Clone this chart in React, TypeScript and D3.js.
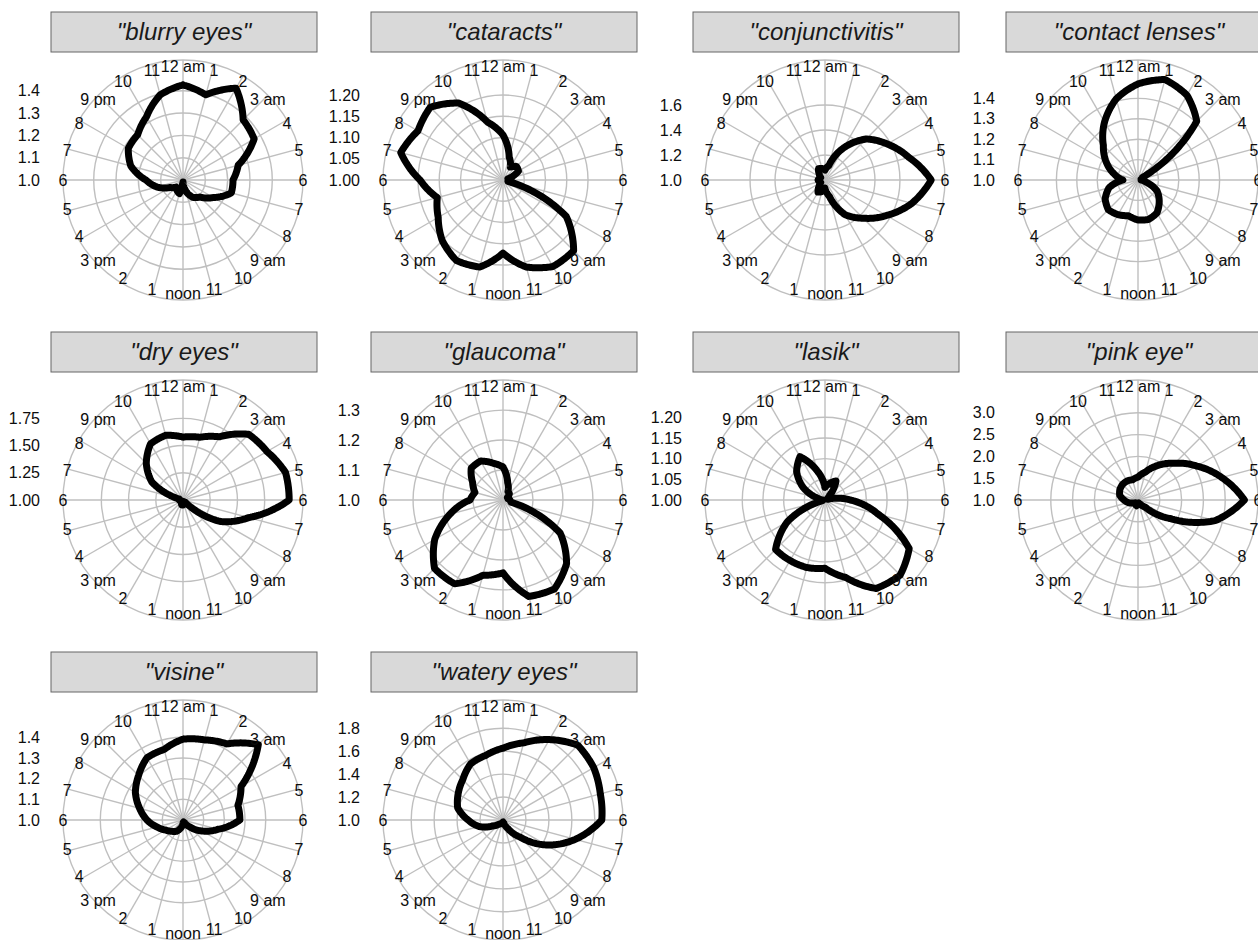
import React from 'react';
import * as d3 from 'd3';

// ---- data ----
const hourLabels = ['12 am', '1', '2', '3 am', '4', '5', '6', '7', '8', '9 am', '10', '11',
  'noon', '1', '2', '3 pm', '4', '5', '6', '7', '8', '9 pm', '10', '11'];

const panelTitles = ['"blurry eyes"', '"cataracts"', '"conjunctivitis"', '"contact lenses"',
  '"dry eyes"', '"glaucoma"', '"lasik"', '"pink eye"', '"visine"', '"watery eyes"'];

const blurryEyes = [1.426, 1.395, 1.475, 1.381, 1.368, 1.256, 1.224, 1.224, 1.157, 1.108, 1.09, 1.054,
  1.009, 1.063, 1.054, 1.045, 1.067, 1.121, 1.166, 1.242, 1.283, 1.287, 1.327, 1.395];
const cataracts = [1.106, 1.056, 1.035, 1.045, 1.042, 1.012, 1.019, 1.012, 1.172, 1.235, 1.235, 1.212,
  1.172, 1.212, 1.219, 1.202, 1.176, 1.16, 1.195, 1.249, 1.231, 1.242, 1.209, 1.141];
const conjunctivitis = [1.08, 1.12, 1.296, 1.464, 1.576, 1.696, 1.85, 1.72, 1.568, 1.432, 1.32, 1.136,
  1.064, 1.096, 1.112, 1.064, 1.04, 1.048, 1.056, 1.048, 1.04, 1.064, 1.104, 1.096];
const contactLenses = [1.471, 1.51, 1.48, 1.407, 1.025, 1.015, 1.015, 1.04, 1.108, 1.147, 1.186, 1.2,
  1.196, 1.181, 1.196, 1.206, 1.186, 1.147, 1.074, 1.123, 1.181, 1.24, 1.328, 1.412];
const dryEyes = [1.578, 1.596, 1.67, 1.853, 1.89, 1.975, 1.975, 1.624, 1.394, 1.028, 1.018, 1.028,
  1.046, 1.046, 1.028, 1.018, 1.018, 1.018, 1.037, 1.037, 1.33, 1.477, 1.596, 1.615];
const glaucoma = [1.11, 1.06, 1.033, 1.03, 1.017, 1.017, 1.023, 1.027, 1.22, 1.3, 1.343, 1.333,
  1.243, 1.26, 1.323, 1.323, 1.263, 1.183, 1.11, 1.097, 1.117, 1.15, 1.15, 1.127];
const lasik = [1.031, 1.041, 1.053, 1.015, 1.007, 1.007, 1.061, 1.133, 1.235, 1.257, 1.247, 1.194,
  1.165, 1.169, 1.169, 1.169, 1.105, 1.007, 1.005, 1.019, 1.061, 1.097, 1.121, 1.073];
const pinkEye = [1.526, 1.664, 1.915, 2.19, 2.556, 2.99, 3.44, 2.83, 1.847, 1.229, 1.114, 1.069,
  1.092, 1.137, 1.114, 1.092, 1.137, 1.229, 1.32, 1.435, 1.48, 1.503, 1.503, 1.48];
const visine = [1.391, 1.401, 1.425, 1.515, 1.324, 1.275, 1.275, 1.174, 1.106, 1.048, 1.014, 1.01,
  1.014, 1.039, 1.063, 1.077, 1.097, 1.13, 1.174, 1.217, 1.266, 1.304, 1.348, 1.353];
const wateryEyes = [1.626, 1.696, 1.809, 1.922, 1.913, 1.878, 1.861, 1.652, 1.435, 1.209, 1.087, 1.026,
  1.017, 1.026, 1.035, 1.052, 1.104, 1.217, 1.304, 1.409, 1.452, 1.496, 1.565, 1.583];

const panelValues = [blurryEyes, cataracts, conjunctivitis, contactLenses, dryEyes,
  glaucoma, lasik, pinkEye, visine, wateryEyes];

const radialMin = [1.0, 1.0, 1.0, 1.0, 1.0, 1.0, 1.0, 1.0, 1.0, 1.0];
const radialMax = [1.478, 1.251, 1.854, 1.523, 1.98, 1.356, 1.258, 3.447, 1.516, 1.93];
const radialBreaks = [
  [1.0, 1.1, 1.2, 1.3, 1.4],
  [1.0, 1.05, 1.1, 1.15, 1.2],
  [1.0, 1.2, 1.4, 1.6],
  [1.0, 1.1, 1.2, 1.3, 1.4],
  [1.0, 1.25, 1.5, 1.75],
  [1.0, 1.1, 1.2, 1.3],
  [1.0, 1.05, 1.1, 1.15, 1.2],
  [1.0, 1.5, 2.0, 2.5, 3.0],
  [1.0, 1.1, 1.2, 1.3, 1.4],
  [1.0, 1.2, 1.4, 1.6, 1.8],
];
const breakDigits = [1, 2, 1, 1, 2, 1, 2, 1, 1, 1];

// ---- layout ----
const colCenters = [183, 503, 825, 1138];
const rowCenters = [180, 500, 820];
const R_DATA = 106.7;
const R_OUTER = 120;
const FONT = '"Liberation Sans", Arial, sans-serif';

function Panel({ idx, cx, cy }: { idx: number; cx: number; cy: number }) {
  const values = panelValues[idx];
  const r = d3.scaleLinear().domain([radialMin[idx], radialMax[idx]]).range([0, R_DATA]).clamp(true);
  const theta = d3.scaleLinear().domain([0, 24]).range([0, 2 * Math.PI]);
  const steps = 20;
  const pts: [number, number][] = [];
  for (let h = 0; h < 24; h++) {
    const v0 = values[h];
    const v1 = values[(h + 1) % 24];
    for (let k = 0; k < steps; k++) {
      const t = k / steps;
      pts.push([theta(h + t), r(v0 + (v1 - v0) * t)]);
    }
  }
  pts.push([theta(24), r(values[0])]);
  const line = d3.lineRadial<[number, number]>().angle(d => d[0]).radius(d => d[1]);
  const hours = d3.range(24);
  const fmt = d3.format(`.${breakDigits[idx]}f`);
  const gridColor = '#bfbfbf';
  return (
    <g>
      <rect x={cx - 132} y={cy - 168} width={266} height={40} fill="#d9d9d9" stroke="#666" strokeWidth={1} />
      <text x={cx + 1} y={cy - 148} dy="0.35em" textAnchor="middle" fontStyle="italic"
        fontSize={24} fill="#1a1a1a" fontFamily={FONT}>{panelTitles[idx]}</text>
      <g transform={`translate(${cx},${cy})`}>
        {hours.map(h => (
          <line key={'s' + h} x1={0} y1={0}
            x2={R_OUTER * Math.sin(theta(h))} y2={-R_OUTER * Math.cos(theta(h))}
            stroke={gridColor} strokeWidth={1.4} />
        ))}
        {radialBreaks[idx].filter(b => r(b) > 0.5).map(b => (
          <circle key={'c' + b} r={r(b)} fill="none" stroke={gridColor} strokeWidth={1.4} />
        ))}
        <circle r={R_OUTER} fill="none" stroke={gridColor} strokeWidth={1.4} />
        <path d={line(pts) || ''} fill="none" stroke="#000" strokeWidth={7} strokeLinejoin="round" strokeLinecap="round" />
        {hours.map(h => (
          <text key={'t' + h} x={120 * Math.sin(theta(h))} y={-113.5 * Math.cos(theta(h))}
            dy="0.35em" textAnchor="middle" fontSize={16} fill="#0d0d0d" fontFamily={FONT}>{hourLabels[h]}</text>
        ))}
        {radialBreaks[idx].map(b => (
          <text key={'r' + b} x={-143} y={-r(b)} dy="0.35em" textAnchor="end"
            fontSize={16} fill="#0d0d0d" fontFamily={FONT}>{fmt(b)}</text>
        ))}
      </g>
    </g>
  );
}

export default function App() {
  return (
    <div style={{ position: 'absolute', left: 0, top: 0 }}>
      <svg width={1258} height={940} style={{ display: 'block', background: '#fff' }}>
        <rect width={1258} height={940} fill="#fff" />
        {panelTitles.map((t, i) => (
          <Panel key={t} idx={i} cx={colCenters[i % 4]} cy={rowCenters[Math.floor(i / 4)]} />
        ))}
      </svg>
    </div>
  );
}
